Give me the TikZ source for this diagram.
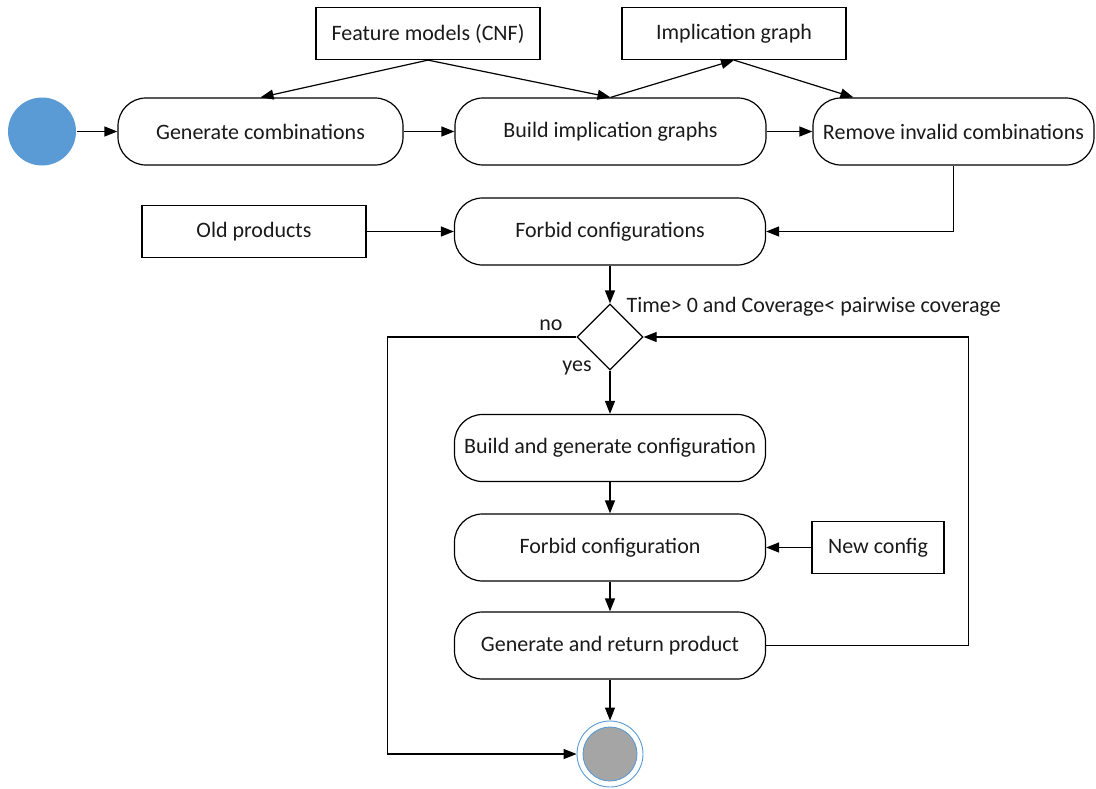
\documentclass[tikz,border=0pt]{standalone}
\usepackage{fontspec}
\setmainfont{Carlito}
\usetikzlibrary{shapes.geometric,arrows.meta}
\definecolor{startblue}{HTML}{5B9BD5}
\definecolor{endgray}{HTML}{A5A5A5}
\definecolor{ink}{HTML}{1A1A1A}
\begin{document}
\begin{tikzpicture}[x=1pt,y=-1pt,
  font=\fontsize{22}{26}\selectfont, text=ink,
  every path/.style={line width=1.2pt},
  activity/.style={draw, rounded corners=28pt, minimum width=311pt, minimum height=67pt, inner sep=0pt},
  artifact/.style={draw, minimum width=224pt, minimum height=52pt, inner sep=0pt},
  decision/.style={draw, diamond, aspect=1, minimum width=66pt, minimum height=66pt, inner sep=0pt},
  flow/.style={draw, -{Triangle[length=13pt,width=10pt]}},
  guard/.style={inner sep=0pt}]
\useasboundingbox (0,0) rectangle (1096,788);

% initial and final states
\node[circle, fill=startblue, minimum size=68pt, inner sep=0pt] (start) at (42,131.5) {};
\node[circle, draw=startblue, line width=0.9pt, fill=white, minimum size=66pt, inner sep=0pt] (end) at (610,754) {};
\node[circle, draw=startblue, line width=0.9pt, fill=endgray, minimum size=54pt, inner sep=0pt] at (end) {};

% input artifacts
\node[artifact] (fm) at (428,33.5) {Feature models (CNF)};
\node[artifact] (ig) at (734,33.5) {Implication graph};
\node[artifact] (old) at (254,231.5) {Old products};
\node[artifact, minimum width=132pt] (newc) at (878,547.5) {New config};

% activities
\node[activity, minimum width=285pt] (gen) at (260.5,131.5) {Generate combinations};
\node[activity] (build) at (610.5,131.5) {Build implication graphs};
\node[activity, minimum width=281pt] (remove) at (953.5,131.5) {Remove invalid combinations};
\node[activity] (forbids) at (610,231.5) {Forbid configurations};
\node[decision] (dec) at (610,337) {};
\node[activity] (bgc) at (610,448) {Build and generate configuration};
\node[activity] (fc) at (610,547.5) {Forbid configuration};
\node[activity] (grp) at (610,645.5) {Generate and return product};

% guards
\node[guard, anchor=west] (cond) at (626,307) {Time> 0 and Coverage< pairwise coverage};
\node[guard] (no) at (551,325) {no};
\node[guard] (yes) at (577,368) {yes};

% control flow
\draw[flow] (start) -- (gen);
\draw[flow] (gen) -- (build);
\draw[flow] (build) -- (remove);
\draw[flow] (fm.south) -- (gen.north);
\draw[flow] (fm.south) -- (build.north);
\draw[flow] (build.north) -- (ig.south);
\draw[flow] (ig.south) -- ([xshift=41pt]remove.north west);
\draw[flow] (remove.south) |- (forbids.east);
\draw[flow] (old) -- (forbids);
\draw[flow] (forbids) -- (dec.north);
\draw[flow] (dec.south) -- (bgc);
\draw[flow] (bgc) -- (fc);
\draw[flow] (newc) -- (fc);
\draw[flow] (fc) -- (grp);
\draw[flow] (grp) -- (end);
\draw[flow] (grp.east) -- ++(202,0) |- (dec.east);
\draw[flow] (dec.west) -- ++(-189,0) |- (end.west);
\end{tikzpicture}
\end{document}
